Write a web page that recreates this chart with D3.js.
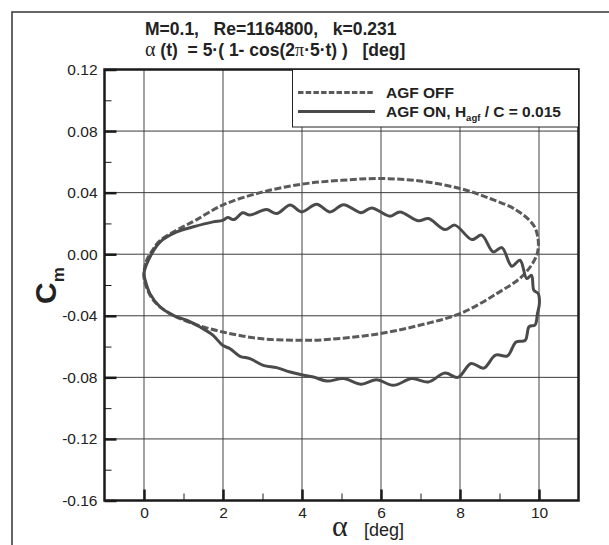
<!DOCTYPE html>
<html>
<head>
<meta charset="utf-8">
<script src="https://cdn.jsdelivr.net/npm/d3@7"></script>
<style>
  body { margin: 0; background: #fff; }
  svg { display: block; }
  text { font-family: "Liberation Sans", Arial, sans-serif; white-space: pre; }
</style>
</head>
<body>
<div class="content"></div>
<script>

// AGF OFF loop (dashed)
var offAlpha = [0, 0.05, 0.2, 0.41, 0.83, 1.3, 1.99, 2.94, 3.99, 5.0, 5.97, 7.0, 8.0, 8.76, 9.43, 9.86, 9.98, 9.94, 9.6, 8.93, 8.0, 7.0, 5.97, 4.71, 3.99, 2.94, 1.99, 1.25, 0.66, 0.24, 0.03];
var offCm = [-0.013, -0.005, 0.002, 0.009, 0.0156, 0.022, 0.0319, 0.040, 0.0455, 0.048, 0.0492, 0.0475, 0.0427, 0.0362, 0.0286, 0.0189, 0.0091, -0.0007, -0.0137, -0.0256, -0.0386, -0.046, -0.0516, -0.0553, -0.0559, -0.0548, -0.0505, -0.0451, -0.0386, -0.030, -0.019];

// AGF ON loop (solid), wiggly
var onAlpha = [0, 0.11, 0.41, 0.83, 1.25, 1.75, 1.99, 2.12, 2.28, 2.5, 2.68, 3.1, 3.36, 3.7, 3.99, 4.37, 4.71, 5.05, 5.5, 5.76, 6.23, 6.48, 6.95, 7.2, 7.62, 7.87, 8.3, 8.55, 8.84, 9.06, 9.31, 9.52, 9.69, 9.81, 9.87, 9.98, 10.01, 9.96, 9.9, 9.75, 9.65, 9.42, 9.2, 8.9, 8.6, 8.28, 7.95, 7.62, 7.2, 6.78, 6.31, 5.89, 5.5, 5.05, 4.63, 4.29, 3.99, 3.7, 3.36, 3.02, 2.68, 2.43, 2.18, 1.99, 1.75, 1.42, 1.08, 0.74, 0.41, 0.15, 0.03];
var onCm = [-0.0126, -0.004, 0.008, 0.0145, 0.0178, 0.021, 0.022, 0.0238, 0.0225, 0.0269, 0.0254, 0.029, 0.0264, 0.0319, 0.0275, 0.0325, 0.0275, 0.0322, 0.027, 0.0301, 0.0247, 0.0275, 0.0217, 0.0232, 0.016, 0.0189, 0.0095, 0.0124, 0.0015, 0.0043, -0.0078, -0.0039, -0.0158, -0.0137, -0.0234, -0.0256, -0.032, -0.0386, -0.046, -0.047, -0.056, -0.057, -0.066, -0.0655, -0.074, -0.071, -0.080, -0.0772, -0.083, -0.0808, -0.0852, -0.0815, -0.0845, -0.0808, -0.0824, -0.0798, -0.0783, -0.0765, -0.0737, -0.0722, -0.0678, -0.0663, -0.0614, -0.0592, -0.0527, -0.0473, -0.0429, -0.0397, -0.0343, -0.0256, -0.0169];

var xTicks = [0, 2, 4, 6, 8, 10];
var xMinor = [1, 3, 5, 7, 9];
var yTicks = [0.12, 0.08, 0.04, 0.00, -0.04, -0.08, -0.12, -0.16];
var yMinor = [0.10, 0.06, 0.02, -0.02, -0.06, -0.10, -0.14];
var seriesNames = ["AGF OFF", "AGF ON, H"];

var W = 609, H = 545;
var svg = d3.select(".content").append("svg").attr("width", W).attr("height", H);

var x = d3.scaleLinear().domain([-1, 11]).range([104.5, 578.5]);
var y = d3.scaleLinear().domain([-0.16, 0.12]).range([500.5, 69.5]);

// outer frame (left + top)
svg.append("path")
   .attr("d", "M12,545 L12,12 L609,12")
   .attr("fill", "none").attr("stroke", "#333").attr("stroke-width", 1.5);

// grid
svg.append("g").selectAll("line").data(xTicks).enter().append("line")
   .attr("x1", d => x(d)).attr("x2", d => x(d))
   .attr("y1", y(0.12)).attr("y2", y(-0.16))
   .attr("stroke", "#7a7a7a").attr("stroke-width", 1.4);
svg.append("g").selectAll("line").data(yTicks.slice(1, -1)).enter().append("line")
   .attr("x1", x(-1)).attr("x2", x(11))
   .attr("y1", d => y(d)).attr("y2", d => y(d))
   .attr("stroke", "#3a3a3a").attr("stroke-width", 1);

// curves
var line = d3.line().x(d => x(d[0])).y(d => y(d[1])).curve(d3.curveCatmullRomClosed.alpha(0.5));
var offPts = offAlpha.map((a, i) => [a, offCm[i]]);
var onPts = onAlpha.map((a, i) => [a, onCm[i]]);

svg.append("path").attr("d", line(offPts))
   .attr("fill", "none").attr("stroke", "#5a5a5a").attr("stroke-width", 3)
   .attr("stroke-dasharray", "7,2.5");
svg.append("path").attr("d", line(onPts))
   .attr("fill", "none").attr("stroke", "#4a4a4a").attr("stroke-width", 3);

// axes
var yAxis = svg.append("g").attr("transform", "translate(" + x(-1) + ",0)")
   .call(d3.axisLeft(y).tickValues(yTicks).tickFormat(d => d.toFixed(2)).tickSize(-12).tickPadding(7));
var yAxisMinor = svg.append("g").attr("transform", "translate(" + x(-1) + ",0)")
   .call(d3.axisLeft(y).tickValues(yMinor).tickFormat("").tickSize(-7));
var xAxis = svg.append("g").attr("transform", "translate(0," + y(-0.16) + ")")
   .call(d3.axisBottom(x).tickValues(xTicks).tickSize(-11).tickPadding(6));
var xAxisMinor = svg.append("g").attr("transform", "translate(0," + y(-0.16) + ")")
   .call(d3.axisBottom(x).tickValues(xMinor).tickFormat("").tickSize(-7));

[yAxis, xAxis].forEach(g => {
   g.select(".domain").remove();
   g.selectAll(".tick line").attr("stroke", "#1a1a1a").attr("stroke-width", 2.5);
   g.selectAll(".tick text").attr("fill", "#222").style("font-size", "15.5px")
      .style("font-family", "'Liberation Sans', Arial, sans-serif");
});
[yAxisMinor, xAxisMinor].forEach(g => {
   g.select(".domain").remove();
   g.selectAll(".tick line").attr("stroke", "#1a1a1a").attr("stroke-width", 1);
});

// plot frame
svg.append("rect")
   .attr("x", x(-1)).attr("y", y(0.12))
   .attr("width", x(11) - x(-1)).attr("height", y(-0.16) - y(0.12))
   .attr("fill", "none").attr("stroke", "#1a1a1a").attr("stroke-width", 2.5);

// legend
var lg = svg.append("g");
lg.append("rect")
   .attr("x", 292.5).attr("y", y(0.12))
   .attr("width", x(11) - 292.5).attr("height", 127 - y(0.12))
   .attr("fill", "#fff").attr("stroke", "#222").attr("stroke-width", 1);
lg.append("line").attr("x1", 298).attr("x2", 375).attr("y1", 92.5).attr("y2", 92.5)
   .attr("stroke", "#5a5a5a").attr("stroke-width", 3).attr("stroke-dasharray", "5.5,2.2");
lg.append("line").attr("x1", 298).attr("x2", 375).attr("y1", 111.5).attr("y2", 111.5)
   .attr("stroke", "#4a4a4a").attr("stroke-width", 3);
lg.append("text").attr("x", 386).attr("y", 98)
   .style("font-size", "15.5px").style("font-weight", "bold").attr("fill", "#222")
   .text(seriesNames[0]);
var t2 = lg.append("text").attr("x", 386).attr("y", 117)
   .style("font-size", "15.5px").style("font-weight", "bold").attr("fill", "#222");
t2.append("tspan").text(seriesNames[1]);
t2.append("tspan").attr("dy", 4).style("font-size", "9.5px").text("agf");
t2.append("tspan").attr("dy", -4).text(" / C = 0.015");

// title
svg.append("text").attr("x", 145).attr("y", 35)
   .style("font-size", "17.5px").style("font-weight", "bold").attr("fill", "#222")
   .text("M=0.1,   Re=1164800,   k=0.231");
var t = svg.append("text").attr("x", 145).attr("y", 56)
   .style("font-size", "17.5px").style("font-weight", "bold").attr("fill", "#222");
t.append("tspan").style("font-family", "'Liberation Serif', serif").style("font-weight", "normal")
   .style("font-size", "20px").text("α");
t.append("tspan").text(" (t)  = 5·( 1- cos(2");
t.append("tspan").style("font-family", "'Liberation Serif', serif").style("font-weight", "normal")
   .style("font-size", "18px").text("π");
t.append("tspan").text("·5·t) )   [deg]");

// axis titles
var xl = svg.append("text").attr("x", 332).attr("y", 536).attr("fill", "#222");
xl.append("tspan").style("font-family", "'Liberation Serif', serif").style("font-size", "30px").text("α");
xl.append("tspan").attr("x", 364).style("font-size", "18px").text("[deg]");

var yl = svg.append("text").attr("transform", "translate(56,304) rotate(-90)")
   .style("font-weight", "bold").attr("fill", "#222");
yl.append("tspan").style("font-size", "30px").text("C");
yl.append("tspan").attr("dy", 8).style("font-size", "17px").text("m");

</script>
</body>
</html>
